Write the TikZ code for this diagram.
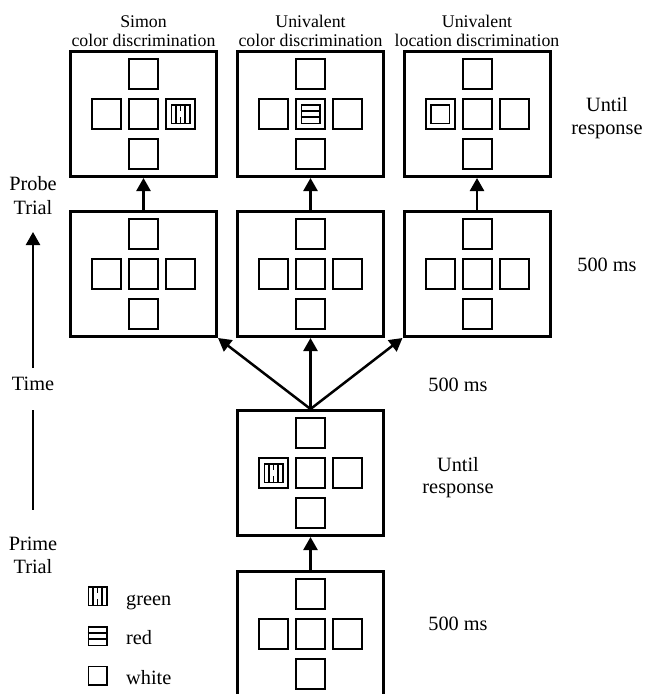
\documentclass[tikz,border=0pt]{standalone}
\usepackage{fontspec}
\setmainfont{Liberation Serif}
\usetikzlibrary{arrows.meta}
\newcommand\crossdisplay[3]{%
  \node[trialbox] (#1) at (#2,#3) {};
  \node[cell] (#1c) at (#1.center) {};
  \node[cell] (#1t) at ([yshift=40pt]#1.center) {};
  \node[cell] (#1b) at ([yshift=-40pt]#1.center) {};
  \node[cell] (#1l) at ([xshift=-37pt]#1.center) {};
  \node[cell] (#1r) at ([xshift=37pt]#1.center) {};
}
\newcommand\greenstim[2]{%
  \node[stim] (#1) at (#2) {};
  \draw[line width=1.5pt] ([xshift=-4.6pt]#1.north) -- ([xshift=-4.6pt]#1.south);
  \draw[line width=1.5pt] ([xshift=4.6pt]#1.north) -- ([xshift=4.6pt]#1.south);
  \draw[line width=0.8pt] ([xshift=0.3pt]#1.north) -- ([xshift=0.3pt,yshift=-7pt]#1.north);
  \draw[line width=0.8pt] ([xshift=0.3pt]#1.south) -- ([xshift=0.3pt,yshift=7pt]#1.south);
}
\newcommand\redstim[2]{%
  \node[stim] (#1) at (#2) {};
  \draw[line width=1.5pt] ([yshift=3.2pt]#1.west) -- ([yshift=3.2pt]#1.east);
  \draw[line width=1.5pt] ([yshift=-3.2pt]#1.west) -- ([yshift=-3.2pt]#1.east);
}
\begin{document}
\begin{tikzpicture}[x=1pt,y=-1pt,
  trialbox/.style={draw, line width=3pt, minimum width=146pt, minimum height=125pt, inner sep=0pt},
  cell/.style={draw, line width=2pt, minimum width=29pt, minimum height=30pt, inner sep=0pt},
  stim/.style={draw, line width=1.5pt, minimum width=18.5pt, minimum height=18.5pt, inner sep=0pt},
  arr/.style={line width=2.5pt, -{Triangle[length=13pt,width=14pt]}},
  lab/.style={font=\fontsize{20.3}{23}\selectfont, anchor=base, inner sep=0pt},
  toplab/.style={font=\fontsize{17.8}{20}\selectfont, anchor=base, inner sep=0pt}]
\useasboundingbox (0,0) rectangle (646,694);
\fill[white] (0,0) rectangle (646,694);

% displays
\crossdisplay{p1}{143.5}{114}
\crossdisplay{p2}{310.5}{114}
\crossdisplay{p3}{477}{114}
\crossdisplay{q1}{143.5}{274}
\crossdisplay{q2}{310.5}{274}
\crossdisplay{q3}{477}{274}
\crossdisplay{pr}{310.5}{473}
\crossdisplay{fx}{310.5}{634}

% stimuli
\greenstim{s1}{p1r.center}
\redstim{s2}{p2c.center}
\node[stim] (s3) at (p3l.center) {};
\greenstim{s4}{prl.center}

% arrows
\draw[arr] (q1.north) -- (p1.south);
\draw[arr] (q2.north) -- (p2.south);
\draw[arr] (q3.north) -- (p3.south);
\draw[arr] (pr.north) -- (q1.south east);
\draw[arr] (pr.north) -- (q2.south);
\draw[arr] (pr.north) -- (q3.south west);
\draw[arr] (fx.north) -- (pr.south);

% top labels
\node[toplab] (t1a) at (143.5,27) {Simon};
\node[toplab] (t1b) at (143.5,46) {color discrimination};
\node[toplab] (t2a) at (310.5,27) {Univalent};
\node[toplab] (t2b) at (310.5,46) {color discrimination};
\node[toplab] (t3a) at (477,27) {Univalent};
\node[toplab] (t3b) at (477,46) {location discrimination};

% right labels
\node[lab] (r1a) at (607,111) {Until};
\node[lab] (r1b) at (607,134) {response};
\node[lab] (r2) at (607,271) {500 ms};
\node[lab] (r3) at (458,391) {500 ms};
\node[lab] (r4a) at (458,471) {Until};
\node[lab] (r4b) at (458,493) {response};
\node[lab] (r5) at (458,630) {500 ms};

% time axis
\node[lab] (la) at (33,190) {Probe};
\node[lab] (lb) at (33,214) {Trial};
\node[lab] (lt) at (33,390) {Time};
\node[lab] (lc) at (33,550) {Prime};
\node[lab] (ld) at (33,573) {Trial};
\coordinate (ta) at (33,368);
\coordinate (tb) at (33,232);
\coordinate (tc) at (33,410);
\coordinate (td) at (33,510);
\draw[arr] (ta) -- (tb);
\draw[line width=2.5pt] (tc) -- (td);

% legend
\greenstim{g1}{97.5,596}
\redstim{g2}{97.5,636}
\node[stim] (g3) at (97.5,675.5) {};
\node[lab, anchor=base west] (gt1) at (126,605) {green};
\node[lab, anchor=base west] (gt2) at (126,644) {red};
\node[lab, anchor=base west] (gt3) at (126,684) {white};
\end{tikzpicture}
\end{document}
